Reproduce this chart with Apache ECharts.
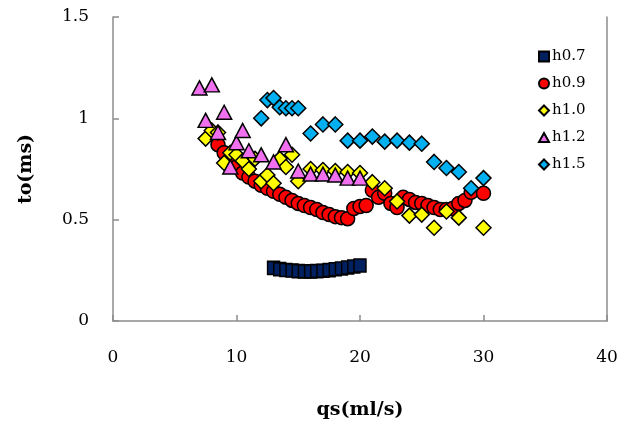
<!DOCTYPE html>
<html><head><meta charset="utf-8">
<script src="https://cdn.jsdelivr.net/npm/echarts@6/dist/echarts.min.js"></script>
<style>html,body{margin:0;padding:0;background:#fff}#c{width:635px;height:428px}</style>
</head><body><div id="c"></div>
<script>
const xTicks = [0, 10, 20, 30, 40];
const yTicks = [0, 0.5, 1, 1.5];
const seriesNames = ['h0.7', 'h0.9', 'h1.0', 'h1.2', 'h1.5'];

const h07x = [13, 13.5, 14, 14.5, 15, 15.5, 16, 16.5, 17, 17.5, 18, 18.5, 19, 19.5, 20];
const h07y = [0.262, 0.256, 0.252, 0.249, 0.246, 0.245, 0.245, 0.246, 0.248, 0.251, 0.255, 0.259, 0.264, 0.269, 0.274];

const h09x = [8.5, 9, 9.5, 10, 10.5, 11, 11.5, 12, 12.5, 13, 13.5, 14, 14.5, 15, 15.5, 16, 16.5, 17, 17.5, 18, 18.5, 19, 19.5, 20, 20.5, 21, 21.5, 22, 22.5, 23, 23.5, 24, 24.5, 25, 25.5, 26, 26.5, 27, 27.5, 28, 28.5, 29, 30];
const h09y = [0.87, 0.83, 0.79, 0.76, 0.73, 0.71, 0.69, 0.67, 0.655, 0.64, 0.625, 0.61, 0.595, 0.58, 0.57, 0.56, 0.55, 0.535, 0.525, 0.515, 0.51, 0.505, 0.555, 0.565, 0.57, 0.645, 0.61, 0.63, 0.58, 0.56, 0.61, 0.6, 0.585, 0.58, 0.57, 0.56, 0.55, 0.55, 0.555, 0.58, 0.595, 0.635, 0.63];

const h10x = [7.5, 8, 8.5, 9, 9.5, 10, 10.5, 11, 11.5, 12, 12.5, 13, 13.5, 14, 14.5, 15, 16, 17, 18, 19, 20, 21, 22, 23, 24, 25, 26, 27, 28, 30];
const h10y = [0.9, 0.94, 0.93, 0.78, 0.83, 0.82, 0.79, 0.75, 0.8, 0.69, 0.72, 0.68, 0.8, 0.76, 0.82, 0.69, 0.75, 0.745, 0.74, 0.735, 0.73, 0.685, 0.655, 0.59, 0.52, 0.525, 0.46, 0.54, 0.51, 0.46];

const h12x = [7, 8, 7.5, 9, 8.5, 9.5, 10, 10.5, 11, 12, 13, 14, 15, 16, 17, 18, 19, 20];
const h12y = [1.15, 1.165, 0.99, 1.03, 0.93, 0.76, 0.88, 0.94, 0.84, 0.82, 0.785, 0.87, 0.74, 0.725, 0.725, 0.72, 0.705, 0.705];

const h15x = [12, 12.5, 13, 13.5, 14, 14.5, 15, 16, 17, 18, 19, 20, 21, 22, 23, 24, 25, 26, 27, 28, 29, 30];
const h15y = [1.0, 1.09, 1.1, 1.055, 1.05, 1.05, 1.05, 0.925, 0.97, 0.97, 0.89, 0.89, 0.91, 0.885, 0.89, 0.88, 0.875, 0.785, 0.755, 0.735, 0.655, 0.705];

const zip = (xs, ys) => xs.map((x, i) => [x, ys[i]]);
const tri = 'path://M50,0 L100,90 L0,90 Z';
const diamond = 'diamond';

const serif = '"DejaVu Serif", "Liberation Serif", serif';
const mk = (name, data, symbol, size, color) => ({
  name, type: 'scatter', data, symbol, symbolSize: size,
  itemStyle: { color, borderColor: '#000', borderWidth: 1.5, opacity: 1 },
  emphasis: { disabled: true }
});

const chart = echarts.init(document.getElementById('c'), null, { renderer: 'canvas' });
chart.setOption({
  animation: false,
  backgroundColor: '#fff',
  grid: { left: 113, right: 28, top: 17, bottom: 107 },
  legend: {
    orient: 'vertical', left: 533, top: 44, itemGap: 12,
    itemWidth: 10, itemHeight: 10,
    textStyle: { fontFamily: serif, fontSize: 15, color: '#000', padding: [0, 0, 0, -2] },
    data: seriesNames
  },
  xAxis: {
    type: 'value', min: 0, max: 40, interval: 10,
    name: 'qs(ml/s)', nameLocation: 'middle', nameGap: 80,
    nameTextStyle: { fontFamily: serif, fontSize: 19, fontWeight: 'bold', color: '#000' },
    axisLine: { show: true, lineStyle: { color: '#8c8c8c', width: 1.5 } },
    axisTick: { show: true, inside: true, length: 6, lineStyle: { color: '#8c8c8c', width: 1.5 } },
    axisLabel: { fontFamily: serif, fontSize: 17, color: '#000', margin: 28,
      formatter: v => xTicks.includes(v) ? String(v) : '' },
    splitLine: { show: false }
  },
  yAxis: [{
    type: 'value', min: 0, max: 1.5, interval: 0.5,
    name: 'to(ms)', nameLocation: 'middle', nameGap: 77, nameRotate: 90,
    nameTextStyle: { fontFamily: serif, fontSize: 19, fontWeight: 'bold', color: '#000' },
    axisLine: { show: true, lineStyle: { color: '#8c8c8c', width: 1.5 } },
    axisTick: { show: true, inside: true, length: 6, lineStyle: { color: '#8c8c8c', width: 1.5 } },
    axisLabel: { fontFamily: serif, fontSize: 17, color: '#000', margin: 24,
      formatter: v => yTicks.includes(v) ? String(v) : '' },
    splitLine: { show: false }
  }, {
    type: 'value', min: 0, max: 1.5, interval: 0.5, position: 'right',
    axisLine: { show: true, onZero: false, lineStyle: { color: '#8c8c8c', width: 1.5 } },
    axisTick: { show: false }, axisLabel: { show: false }, splitLine: { show: false }
  }],
  series: [
    mk('h0.7', zip(h07x, h07y), 'rect', [12, 13], '#002060'),
    mk('h0.9', zip(h09x, h09y), 'circle', 14, '#ff0000'),
    mk('h1.0', zip(h10x, h10y), diamond, 15, '#ffff00'),
    mk('h1.2', zip(h12x, h12y), tri, [15, 14], '#f070f0'),
    mk('h1.5', zip(h15x, h15y), diamond, 15, '#00b0f0')
  ]
});
</script></body></html>
